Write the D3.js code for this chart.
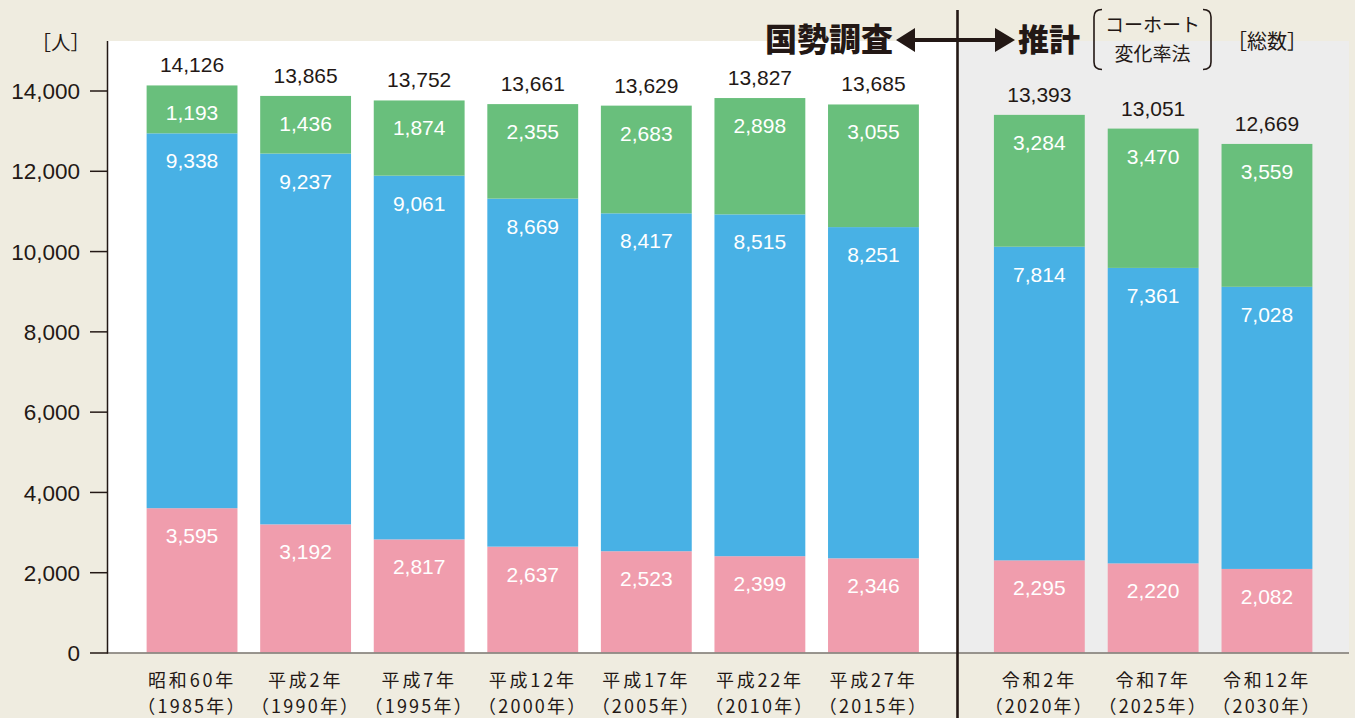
<!DOCTYPE html>
<html><head><meta charset="utf-8">
<script src="https://cdn.jsdelivr.net/npm/d3@7"></script>
<style>
html,body{margin:0;padding:0;background:#efece0;}
svg{display:block;}
text{font-family:"Liberation Sans",Arial,"Noto Sans CJK JP",sans-serif;}
.jp{font-family:"Noto Sans CJK JP","Liberation Sans",sans-serif;}
</style>
</head><body>
<svg id="chart" width="1355" height="718"></svg>
<script>
// ---- data ----
const eraLabels  = ["昭和60年","平成2年","平成7年","平成12年","平成17年","平成22年","平成27年","令和2年","令和7年","令和12年"];
const yearLabels = ["（1985年）","（1990年）","（1995年）","（2000年）","（2005年）","（2010年）","（2015年）","（2020年）","（2025年）","（2030年）"];
const isProjection = [false,false,false,false,false,false,false,true,true,true];
const totals   = [14126,13865,13752,13661,13629,13827,13685,13393,13051,12669];
const young    = [3595,3192,2817,2637,2523,2399,2346,2295,2220,2082];
const working  = [9338,9237,9061,8669,8417,8515,8251,7814,7361,7028];
const elderly  = [1193,1436,1874,2355,2683,2898,3055,3284,3470,3559];
const yTicks   = [0,2000,4000,6000,8000,10000,12000,14000];
const seriesNames = ["young","working","elderly"];
const seriesColors = ["#f09dad","#48b1e5","#69bf7c"];

const svg = d3.select("#chart");
const ink = "#231815";
const fmt = d3.format(",");

const plotTop = 41, plotBottom = 652.5, axisX = 108, divX = 957.5, plotRight = 1349;

const y = d3.scaleLinear().domain([0,14000]).range([652.5, 90.5]);

const censusIdx = d3.range(totals.length).filter(i=>!isProjection[i]);
const projIdx   = d3.range(totals.length).filter(i=>isProjection[i]);
const xC = d3.scaleBand().domain(censusIdx).range([axisX, divX]).paddingInner(0.2).paddingOuter(0.34);
const xP = d3.scaleBand().domain(projIdx).range([divX, plotRight]).paddingInner(0.2).paddingOuter(0.32);
const xPos = i => isProjection[i] ? xP(i) : xC(i);
const bw = xC.bandwidth();

// backgrounds
svg.append("rect").attr("x",axisX).attr("y",plotTop).attr("width",divX-axisX).attr("height",plotBottom-plotTop).attr("fill","#ffffff");
svg.append("rect").attr("x",divX).attr("y",plotTop).attr("width",plotRight-divX).attr("height",plotBottom-plotTop).attr("fill","#ededed");

// stacked data
const rows = totals.map((t,i)=>({i, young:young[i], working:working[i], elderly:elderly[i]}));
const stack = d3.stack().keys(seriesNames)(rows);

stack.forEach((layer,k)=>{
  const g = svg.append("g");
  g.selectAll("rect").data(layer).join("rect")
    .attr("x",d=>xPos(d.data.i))
    .attr("width",bw)
    .attr("y",d=>y(d[1]))
    .attr("height",d=>y(d[0])-y(d[1]))
    .attr("fill",seriesColors[k]);
  g.selectAll("text").data(layer).join("text")
    .attr("x",d=>xPos(d.data.i)+bw/2)
    .attr("y",d=>y(d[1])+35)
    .attr("text-anchor","middle")
    .attr("fill","#ffffff")
    .attr("font-size",21)
    .text(d=>fmt(d[1]-d[0]));
});

// totals
svg.append("g").selectAll("text").data(rows).join("text")
  .attr("x",d=>xPos(d.i)+bw/2)
  .attr("y",d=>y(d.young+d.working+d.elderly)-13)
  .attr("text-anchor","middle")
  .attr("fill",ink)
  .attr("font-size",21)
  .text(d=>fmt(totals[d.i]));

// x axis line
svg.append("line").attr("x1",axisX).attr("x2",plotRight).attr("y1",plotBottom+0.5).attr("y2",plotBottom+0.5)
  .attr("stroke","#7a7670").attr("stroke-width",1.6);

// y axis
const yAxis = d3.axisLeft(y).tickValues(yTicks).tickFormat(fmt).tickSize(18).tickPadding(10);
const ga = svg.append("g").attr("transform",`translate(${axisX},0)`).call(yAxis);
ga.select(".domain").remove();
ga.selectAll(".tick line").attr("stroke",ink).attr("stroke-width",1.5);
ga.selectAll(".tick text").attr("fill",ink).attr("font-size",22.5).attr("font-family","'Liberation Sans',Arial,sans-serif").attr("dy","0.36em");
svg.append("line").attr("x1",axisX-0.5).attr("x2",axisX-0.5).attr("y1",plotTop).attr("y2",plotBottom+1)
  .attr("stroke",ink).attr("stroke-width",1.5);

svg.append("text").attr("class","jp").attr("x",90).attr("y",50).attr("text-anchor","end")
  .attr("font-size",19.5).attr("fill",ink).text("［人］");

// x labels
const xl = svg.append("g").selectAll("g").data(rows).join("g")
  .attr("transform",d=>`translate(${xPos(d.i)+bw/2},0)`);
xl.append("text").attr("class","jp").attr("y",686.5).attr("text-anchor","middle").attr("font-size",18).attr("fill",ink)
  .attr("letter-spacing",2.8)
  .text(d=>eraLabels[d.i]);
xl.append("text").attr("class","jp").attr("y",713).attr("text-anchor","middle").attr("font-size",18).attr("fill",ink)
  .attr("letter-spacing",2.2)
  .text(d=>yearLabels[d.i]);

// divider
svg.append("line").attr("x1",divX).attr("x2",divX).attr("y1",10).attr("y2",718)
  .attr("stroke",ink).attr("stroke-width",2.6);

// header
svg.append("text").attr("class","jp").attr("x",893).attr("y",51).attr("text-anchor","end")
  .attr("font-size",32).attr("font-weight",900).attr("fill",ink).text("国勢調査");
svg.append("text").attr("class","jp").attr("x",1018).attr("y",51).attr("text-anchor","start")
  .attr("font-size",31).attr("font-weight",900).attr("fill",ink).text("推計");
// double arrow
svg.append("path")
  .attr("d","M896,40 L915,28 L915,38 L995,38 L995,28 L1015,40 L995,52 L995,42 L915,42 L915,52 Z")
  .attr("fill",ink);
// bracket
svg.append("path").attr("d","M1102,9.5 Q1094,9.5 1094,17 L1094,62 Q1094,69.5 1102,69.5")
  .attr("fill","none").attr("stroke",ink).attr("stroke-width",1.6);
svg.append("path").attr("d","M1203,9.5 Q1211,9.5 1211,17 L1211,62 Q1211,69.5 1203,69.5")
  .attr("fill","none").attr("stroke",ink).attr("stroke-width",1.6);
svg.append("text").attr("class","jp").attr("x",1152.5).attr("y",32).attr("text-anchor","middle")
  .attr("font-size",19).attr("fill",ink).text("コーホート");
svg.append("text").attr("class","jp").attr("x",1152.5).attr("y",61).attr("text-anchor","middle")
  .attr("font-size",19).attr("fill",ink).text("変化率法");
svg.append("text").attr("class","jp").attr("x",1227).attr("y",49).attr("text-anchor","start")
  .attr("font-size",20).attr("fill",ink).text("［総数］");
</script>
</body></html>
